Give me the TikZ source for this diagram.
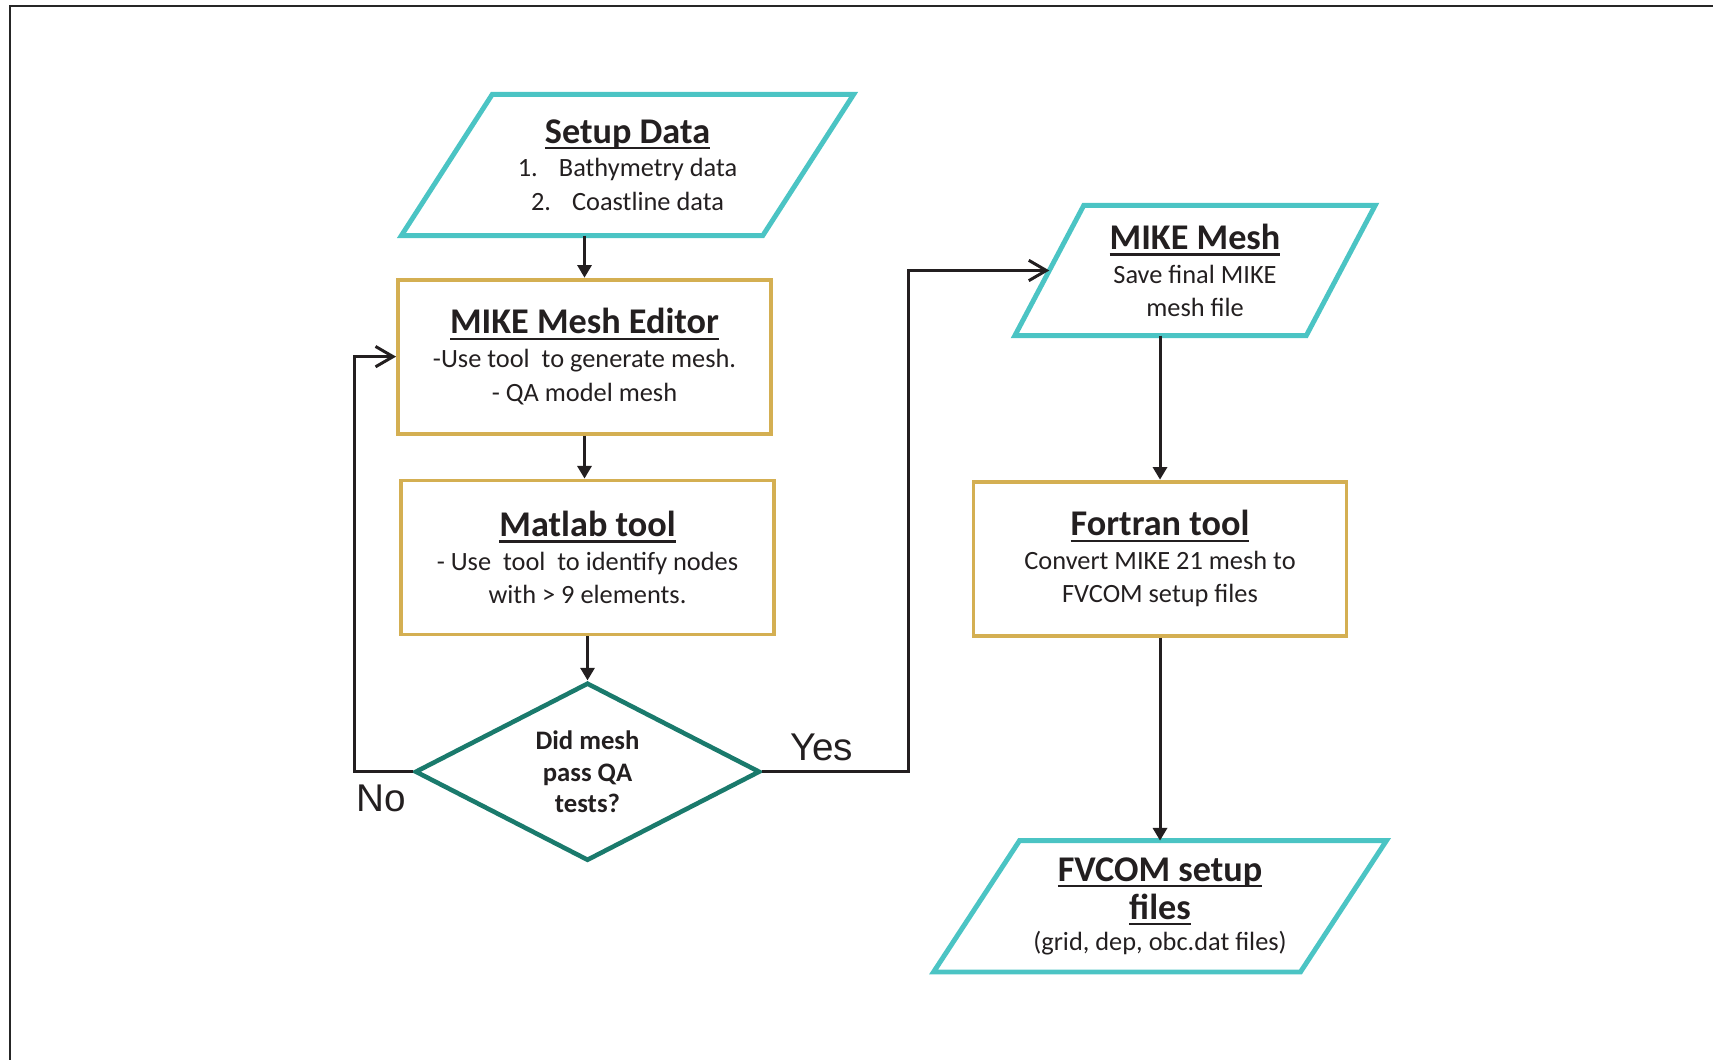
\documentclass[tikz,border=0pt]{standalone}
\usepackage{fontspec}
\setmainfont{Carlito}
\newfontfamily\arialfont{Liberation Sans}
\usepackage{tikz}
\usetikzlibrary{
  shapes.geometric,
  arrows.meta,
  positioning,
  calc
}
\usepackage{xcolor}
\definecolor{datacyan}{HTML}{4BC4C4}
\definecolor{toolgold}{HTML}{D4AF52}
\definecolor{qateal}{HTML}{1A7A6C}
\definecolor{inkgray}{HTML}{231F20}

\newcommand{\steptitle}[1]{\textbf{\fontsize{10.3}{12}\selectfont
  \setbox0\hbox{#1}\rlap{\rule[-1.8pt]{\wd0}{0.65pt}}\box0}}

\begin{document}
\begin{tikzpicture}[
    font=\fontsize{7.5}{9.6}\selectfont,
    text=inkgray,
    iobox/.style={
      rectangle, minimum height=1.40cm,
      inner sep=1pt, align=center
    },
    ioline/.style={draw=datacyan, line width=1.4pt, line join=miter},
    tool/.style={
      rectangle, draw=toolgold, line width=1.1pt,
      minimum width=3.73cm, minimum height=1.54cm,
      align=center
    },
    qabox/.style={
      diamond, aspect=1.94, draw=qateal, line width=1.3pt,
      minimum width=3.45cm, minimum height=1.78cm,
      inner sep=0pt, align=center,
      font=\fontsize{7.6}{9.1}\selectfont\bfseries
    },
    answer/.style={inner sep=0pt, font=\arialfont\fontsize{11}{13}\selectfont},
    arr/.style={-{Triangle[length=3.6pt,width=4pt]}, line width=0.85pt, draw=inkgray},
    back/.style={-{Straight Barb[length=5pt,width=5.8pt]}, line width=0.85pt, draw=inkgray},
  ]

  %% ── Page frame ────────────────────────────────────────────
  \useasboundingbox (0,0) rectangle (17.13,-10.60);
  \draw[line width=0.8pt, draw=black!85] (17.13,-0.06) -- (0.10,-0.06) -- (0.10,-10.60);

  %% ── Mesh generation column ────────────────────────────────
  \node[iobox, minimum width=3.60cm] (setup) at (6.275,-1.65)
    {\steptitle{Setup Data}\\1.\hspace{0.8em}Bathymetry data\\2.\hspace{0.8em}Coastline data};
  \node[tool, below=0.42cm of setup, xshift=-0.43cm] (editor)
    {\steptitle{MIKE Mesh Editor}\\-Use tool\ \ to generate mesh.\\- QA model mesh};
  \node[tool, below=0.43cm of editor, xshift=0.03cm] (matlab)
    {\steptitle{Matlab tool}\\- Use\ \ tool\ \ to identify nodes\\with > 9 elements.};
  \node[qabox, below=0.44cm of matlab] (qa) {Did mesh\\pass QA\\tests?};

  \node[answer, above right=0.10cm and 0.27cm of qa.east] (yes) {Yes};
  \node[answer, below left=0.12cm and 0.06cm of qa.west] (no) {No};

  %% ── Conversion column ─────────────────────────────────────
  \node[iobox, minimum width=2.90cm, minimum height=1.29cm] (mesh) at (11.95,-2.705)
    {\steptitle{MIKE Mesh}\\Save final MIKE\\mesh file};
  \node[tool, below=1.44cm of mesh, xshift=-0.35cm] (fortran)
    {\steptitle{Fortran tool}\\Convert MIKE 21 mesh to\\FVCOM setup files};
  \node[iobox, minimum width=3.655cm, minimum height=1.30cm, below=2.03cm of fortran] (fvcom)
    {\steptitle{FVCOM setup}\\[1.2pt]\steptitle{files}\\[-0.6pt](grid, dep, obc.dat files)};

  %% ── Data parallelograms ───────────────────────────────────
  \foreach \n/\s in {setup/0.455, mesh/0.345, fvcom/0.43}
    \draw[ioline] ([xshift=\s cm]\n.north west) -- ([xshift=\s cm]\n.north east)
      -- ([xshift=-\s cm]\n.south east) -- ([xshift=-\s cm]\n.south west) -- cycle;

  %% ── Arrows ────────────────────────────────────────────────
  \draw[arr]  (editor.north |- setup.south) -- (editor.north);
  \draw[arr]  (editor) -- (matlab.north -| editor);
  \draw[arr]  (matlab) -- (qa);
  \draw[back] (qa.west) -- ++(-0.58,0) |- (editor.west);
  \draw[back] (qa.east) -- ++(1.46,0) |- (mesh.west);
  \draw[arr]  (fortran.north |- mesh.south) -- (fortran.north);
  \draw[arr]  (fortran.south) -- (fvcom.north);

\end{tikzpicture}
\end{document}
